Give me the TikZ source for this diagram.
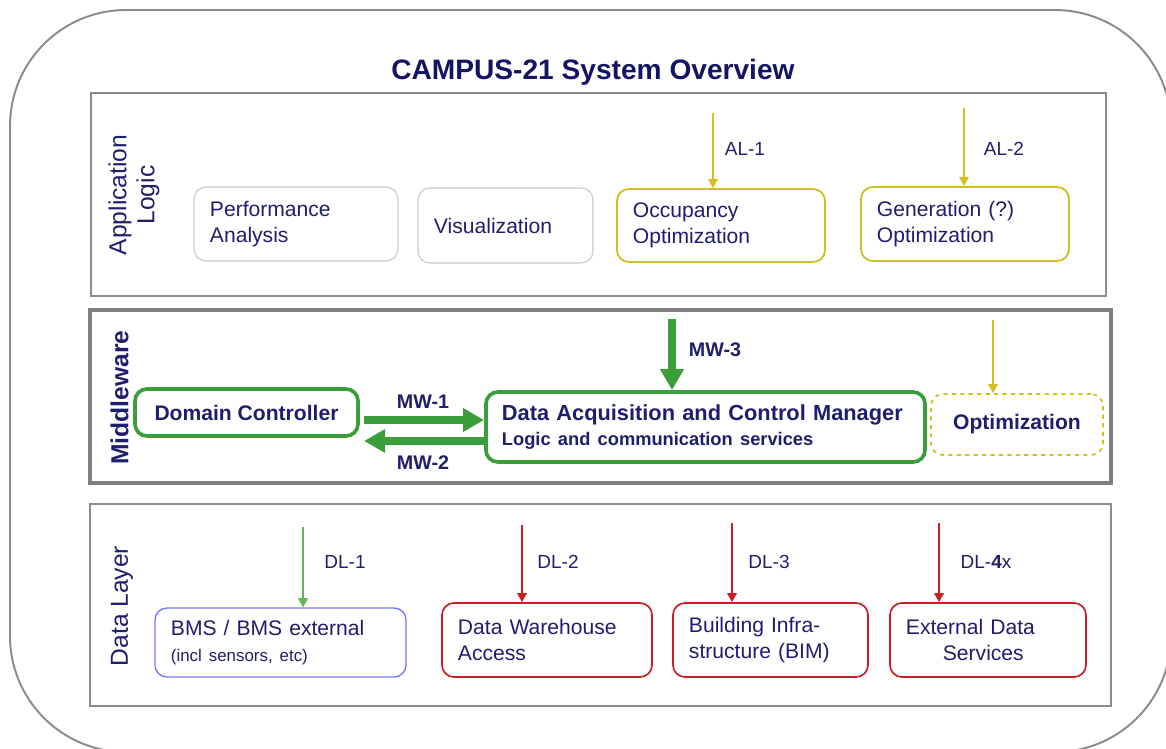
\documentclass[tikz,border=0pt]{standalone}
\usepackage{fontspec}
\setmainfont{Liberation Sans}
\usetikzlibrary{arrows.meta}
\definecolor{navytext}{RGB}{30,30,110}
\definecolor{titlenavy}{RGB}{20,20,100}
\definecolor{framegray}{RGB}{140,140,140}
\definecolor{boxgray}{RGB}{200,200,200}
\definecolor{amber}{RGB}{212,190,40}
\definecolor{mwgreen}{RGB}{58,158,58}
\definecolor{dlgreen}{RGB}{100,180,90}
\definecolor{dlred}{RGB}{200,30,40}
\definecolor{bmsblue}{RGB}{120,120,255}

\begin{document}
\begin{tikzpicture}[%
    x=0.025cm,
    y=-0.025cm,
    every node/.style={text=navytext},
    unit/.style={
      rectangle,
      rounded corners=0.3cm,
      align=left,
      inner xsep=0.4cm,
      font=\fontsize{15}{18.5}\selectfont
    },
    greybox/.style={unit, draw=boxgray, line width=0.8pt},
    yellowbox/.style={unit, draw=amber, line width=1.3pt},
    greenbox/.style={unit, draw=mwgreen, line width=2.6pt},
    optbox/.style={unit, draw=amber, line width=1.2pt, dashed, align=center},
    redbox/.style={unit, draw=dlred, line width=1.2pt},
    bluebox/.style={unit, draw=bmsblue, line width=1pt},
    layertitle/.style={rotate=90, align=center, font=\fontsize{17.5}{20}\selectfont},
    linklabel/.style={font=\fontsize{13.5}{16}\selectfont},
    boldlabel/.style={font=\bfseries\fontsize{14}{16}\selectfont},
    feed/.style={-{Triangle[length=6.5pt,width=7pt]}, line width=1pt},
    busarrow/.style={-{Triangle[length=15pt,width=16pt]}, line width=5.8pt, draw=mwgreen},
  ]
    \useasboundingbox (0,0) rectangle (1166,749);
    \clip (0,0) rectangle (1166,749);
    % outer frame and title
    \draw[draw=framegray, line width=1.4pt, rounded corners=2.9cm] (10,10) rectangle (1171,752);
    \node[font=\bfseries\fontsize{20}{24}\selectfont, text=titlenavy] (title) at (593,72) {CAMPUS-21 System Overview};

    % layers
    \draw[draw=framegray, line width=1.5pt] (91,93) rectangle (1106,296);
    \draw[draw=gray, line width=3.5pt] (90,310) rectangle (1111,483);
    \draw[draw=framegray, line width=2pt] (90,504) rectangle (1111,706);
    \node[layertitle] (applabel) at (134,195) {Application\\Logic};
    \node[layertitle, font=\bfseries\fontsize{17.5}{20}\selectfont] (mwlabel) at (119.5,397.5) {Middleware};
    \node[layertitle] (dllabel) at (122,606) {Data Layer};

    % application logic
    \node[greybox, text width=4.3cm, minimum height=1.85cm] (perf) at (296,224) {Performance\\Analysis};
    \node[greybox, text width=3.575cm, minimum height=1.875cm] (vis) at (505.5,225.5) {Visualization};
    \node[yellowbox, text width=4.4cm, minimum height=1.825cm] (occ) at (721,225.5) {Occupancy\\Optimization};
    \node[yellowbox, text width=4.4cm, minimum height=1.85cm] (gen) at (965,224) {Generation (?)\\Optimization};

    % middleware
    \node[greenbox, minimum width=5.575cm, minimum height=1.175cm, align=center, font=\bfseries\fontsize{15}{18}\selectfont] (dom) at (246.5,412.5) {Domain Controller};
    \node[greenbox, text width=10.175cm, minimum height=1.75cm, font=\bfseries\fontsize{15.5}{18}\selectfont] (dacm) at (705.5,427) {Data Acquisition and Control Manager\\{\fontsize{13}{16}\selectfont Logic and communication services}};
    \node[optbox, minimum width=4.3cm, minimum height=1.525cm, font=\bfseries\fontsize{15}{18}\selectfont] (opt) at (1017,424.5) {Optimization};

    % data layer
    \node[bluebox, text width=5.475cm, minimum height=1.725cm] (bms) at (280.5,642.5) {BMS / BMS external\\{\fontsize{12}{14}\selectfont (incl sensors, etc)}};
    \node[redbox, text width=4.45cm, minimum height=1.85cm] (dwa) at (547,640) {Data Warehouse\\Access};
    \node[redbox, text width=4.075cm, minimum height=1.85cm] (bim) at (770.5,640) {Building Infra-\\structure (BIM)};
    \node[redbox, text width=4.1cm, minimum height=1.85cm] (ext) at (988,640) {External Data\\\hspace*{1.75em}Services};

    % interface arrows
    \coordinate (al1) at (713,113);
    \coordinate (al2) at (964,108);
    \coordinate (mw1) at (0,420);
    \coordinate (mw2) at (0,441);
    \coordinate (mw3) at (672,319);
    \coordinate (optin) at (993,320);
    \coordinate (dl1) at (303,527);
    \coordinate (dl2) at (522,525);
    \coordinate (dl3) at (732,523);
    \coordinate (dl4) at (939,523);

    \draw[feed, draw=amber] (al1) -- (al1 |- occ.north);
    \draw[feed, draw=amber] (al2) -- (al2 |- gen.north);
    \draw[feed, draw=amber] (optin) -- (optin |- opt.north);
    \draw[busarrow, shorten <=3pt] (dom.east |- mw1) -- (dacm.west |- mw1);
    \draw[busarrow, shorten >=3pt] (dacm.west |- mw2) -- (dom.east |- mw2);
    \draw[busarrow] (mw3) -- (mw3 |- dacm.north);
    \draw[feed, draw=dlgreen] (dl1) -- (dl1 |- bms.north);
    \draw[feed, draw=dlred] (dl2) -- (dl2 |- dwa.north);
    \draw[feed, draw=dlred] (dl3) -- (dl3 |- bim.north);
    \draw[feed, draw=dlred] (dl4) -- (dl4 |- ext.north);

    \node[linklabel] (al1lbl) at (745,149) {AL-1};
    \node[linklabel] (al2lbl) at (1004,149) {AL-2};
    \node[boldlabel] (mw1lbl) at (423,402) {MW-1};
    \node[boldlabel] (mw2lbl) at (423,463) {MW-2};
    \node[boldlabel] (mw3lbl) at (715,350) {MW-3};
    \node[linklabel] (dl1lbl) at (345,562) {DL-1};
    \node[linklabel] (dl2lbl) at (558,562) {DL-2};
    \node[linklabel] (dl3lbl) at (769,562) {DL-3};
    \node[linklabel] (dl4lbl) at (986,562) {DL-\textbf{4}x};
  \end{tikzpicture}
\end{document}
